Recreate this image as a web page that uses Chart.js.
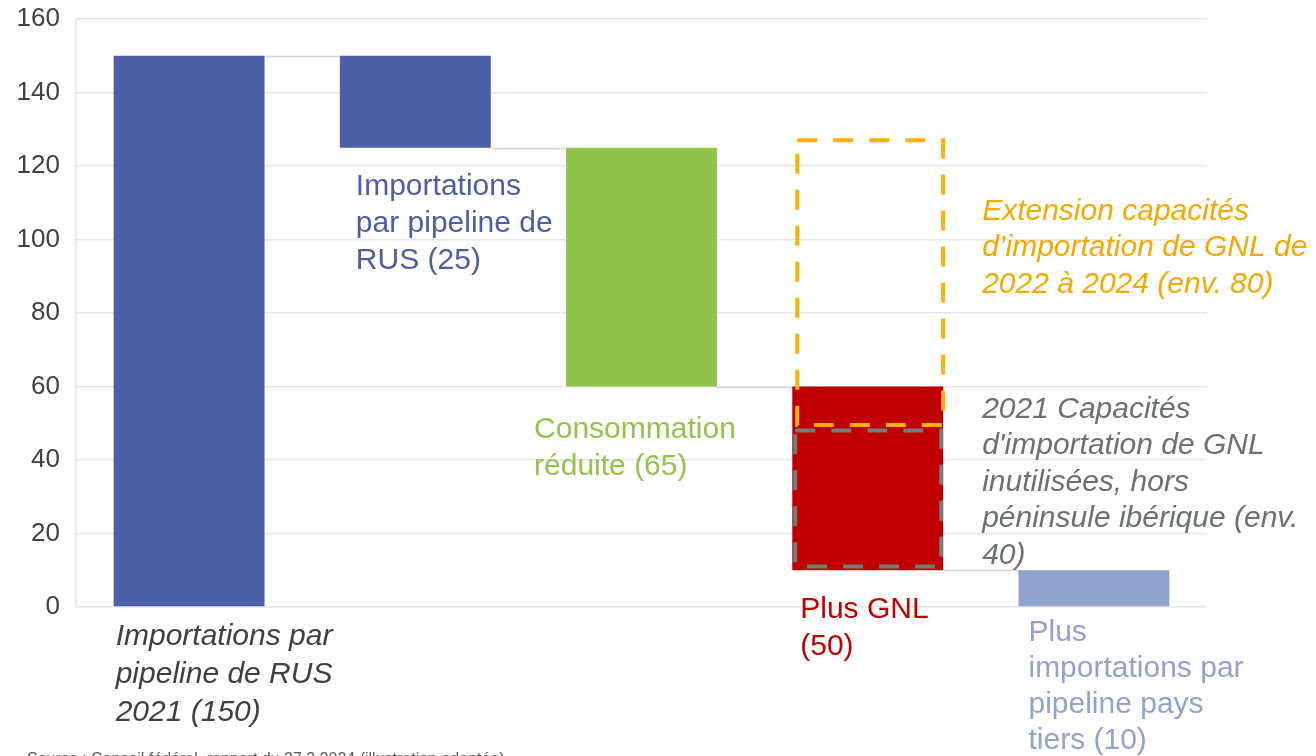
<!DOCTYPE html>
<html lang="fr">
<head>
<meta charset="utf-8">
<title>Importations de gaz</title>
<script src="https://cdn.jsdelivr.net/npm/chart.js@4.4.1/dist/chart.umd.min.js"></script>
<style>
  html, body { margin: 0; padding: 0; background: #fff; overflow: hidden; }
  #wrap { position: relative; width: 1316px; height: 756px; }
</style>
</head>
<body>
<div id="wrap"><canvas id="waterfall_chart"></canvas></div>
<script>
// values
const categories = ['RUS 2021', 'RUS', 'Consommation', 'GNL', 'Pays tiers'];
const barFrom = [0, 125, 60, 10, 0];
const barTo = [150, 150, 125, 60, 10];
const barColors = ['#4a5fa5', '#4a5fa5', '#92c34c', '#c00000', '#8fa3cf'];
const yMin = 0;
const yMax = 160;
const yStep = 20;

const labelLines = [
    ['Importations par', 'pipeline de RUS', '2021 (150)'],
    ['Importations', 'par pipeline de', 'RUS (25)'],
    ['Consommation', 'réduite (65)'],
    ['Plus GNL', '(50)'],
    ['Plus', 'importations par', 'pipeline pays', 'tiers (10)']
];
const labelColors = ['#404040', '#4a5fa5', '#92c34c', '#c00000', '#8fa3cf'];
const labelItalic = [true, false, false, false, false];

// dashed boxes on the GNL bar
const lngExtension = [49.5, 127];
const lngUnused = [11, 48];
const lngExtensionText = ['Extension capacités', 'd\u2019importation de GNL de', '2022 à 2024 (env. 80)'];
const lngUnusedText = ['2021 Capacités', 'd\'importation de GNL', 'inutilisées, hors', 'péninsule ibérique (env.', '40)'];
const sourceText = 'Source : Conseil fédéral, rapport du 27.2.2024 (illustration adaptée)';

const FONT = '"Liberation Sans", Arial, sans-serif';
const LINE_H = 36.5;

// label placement: x offset from bar left, y offset below bar bottom
const labelDx = [2, 16, -32, 8, 10];
const labelDy = [30, 39, 43, 39, 26];
const labelLineH = [38, 37, 37, 37, 36];

const waterfallExtras = {
    id: 'waterfallExtras',
    beforeDatasetsDraw(chart) {
        const ctx = chart.ctx;
        const y = chart.scales.y;
        const bars = chart.getDatasetMeta(0).data;
        ctx.save();
        ctx.strokeStyle = '#d6d6d6';
        ctx.lineWidth = 1.5;
        for (let i = 0; i < bars.length - 1; i++) {
            const py = Math.round(y.getPixelForValue(barTo[i + 1])) + 0.5;
            ctx.beginPath();
            ctx.moveTo(bars[i].x + bars[i].width / 2, py);
            ctx.lineTo(bars[i + 1].x - bars[i + 1].width / 2, py);
            ctx.stroke();
        }
        ctx.restore();
    },
    afterDatasetsDraw(chart) {
        const ctx = chart.ctx;
        const y = chart.scales.y;
        const bars = chart.getDatasetMeta(0).data;
        const gnl = bars[3];
        const gl = gnl.x - gnl.width / 2;
        const gr = gnl.x + gnl.width / 2;

        ctx.save();
        ctx.lineWidth = 4;
        ctx.setLineDash([20, 16]);
        // grey box (unused 2021 capacity)
        ctx.strokeStyle = '#737b7b';
        let top = y.getPixelForValue(lngUnused[1]);
        let bot = y.getPixelForValue(lngUnused[0]);
        ctx.strokeRect(gl + 3, top, gr - gl - 5, bot - top);
        // orange box (extension 2022-2024)
        ctx.strokeStyle = '#ffb000';
        top = y.getPixelForValue(lngExtension[1]);
        bot = y.getPixelForValue(lngExtension[0]);
        ctx.strokeRect(gl + 5, top, gr - gl - 5, bot - top);
        ctx.setLineDash([]);

        // category labels
        ctx.textBaseline = 'middle';
        ctx.textAlign = 'left';
        for (let i = 0; i < bars.length; i++) {
            const x0 = bars[i].x - bars[i].width / 2 + labelDx[i];
            const y0 = y.getPixelForValue(barFrom[i]) + labelDy[i];
            ctx.fillStyle = labelColors[i];
            ctx.font = (labelItalic[i] ? 'italic ' : '') + '30px ' + FONT;
            labelLines[i].forEach((t, k) => ctx.fillText(t, x0, y0 + k * labelLineH[i]));
        }

        // annotation texts
        ctx.font = 'italic 30px ' + FONT;
        ctx.fillStyle = '#f5a800';
        let ty = y.getPixelForValue(lngExtension[1]) + 71;
        lngExtensionText.forEach((t, k) => ctx.fillText(t, gr + 39, ty + k * LINE_H));
        ctx.fillStyle = '#6b7171';
        ty = y.getPixelForValue(lngUnused[1]) - 21;
        lngUnusedText.forEach((t, k) => ctx.fillText(t, gr + 39, ty + k * LINE_H));

        // source line (cut by the frame)
        ctx.font = '16px ' + FONT;
        ctx.fillStyle = '#595959';
        ctx.textBaseline = 'top';
        ctx.fillText(sourceText, 27, 752);
        ctx.restore();
    }
};

const data = {
    labels: categories,
    datasets: [
        {
            data: categories.map((c, i) => [barFrom[i], barTo[i]]),
            backgroundColor: barColors,
            borderWidth: 0,
            barPercentage: 0.667,
            categoryPercentage: 1
        }
    ]
};

const ctx = document.getElementById('waterfall_chart').getContext('2d');
const waterfall_chart = new Chart(ctx, {
    type: 'bar',
    data: data,
    plugins: [waterfallExtras],
    options: {
        responsive: true,
        maintainAspectRatio: false,
        animation: false,
        layout: {
            padding: { top: 19, right: 109, bottom: 149, left: 0 }
        },
        plugins: {
            legend: { display: false },
            tooltip: { enabled: false }
        },
        scales: {
            x: {
                grid: { display: false },
                border: { display: false },
                ticks: { display: false },
                afterFit: s => { s.height = 0; }
            },
            y: {
                min: yMin,
                max: yMax,
                ticks: {
                    stepSize: yStep,
                    padding: 16,
                    color: '#404040',
                    font: { family: FONT, size: 26 }
                },
                grid: { color: '#e3e6f1', lineWidth: 1.5, drawTicks: false },
                border: { color: '#e3e6f1', width: 1.5 },
                afterFit: s => { s.width = 76; s.paddingTop = 0; s.paddingBottom = 0; }
            }
        }
    }
});
</script>
</body>
</html>
